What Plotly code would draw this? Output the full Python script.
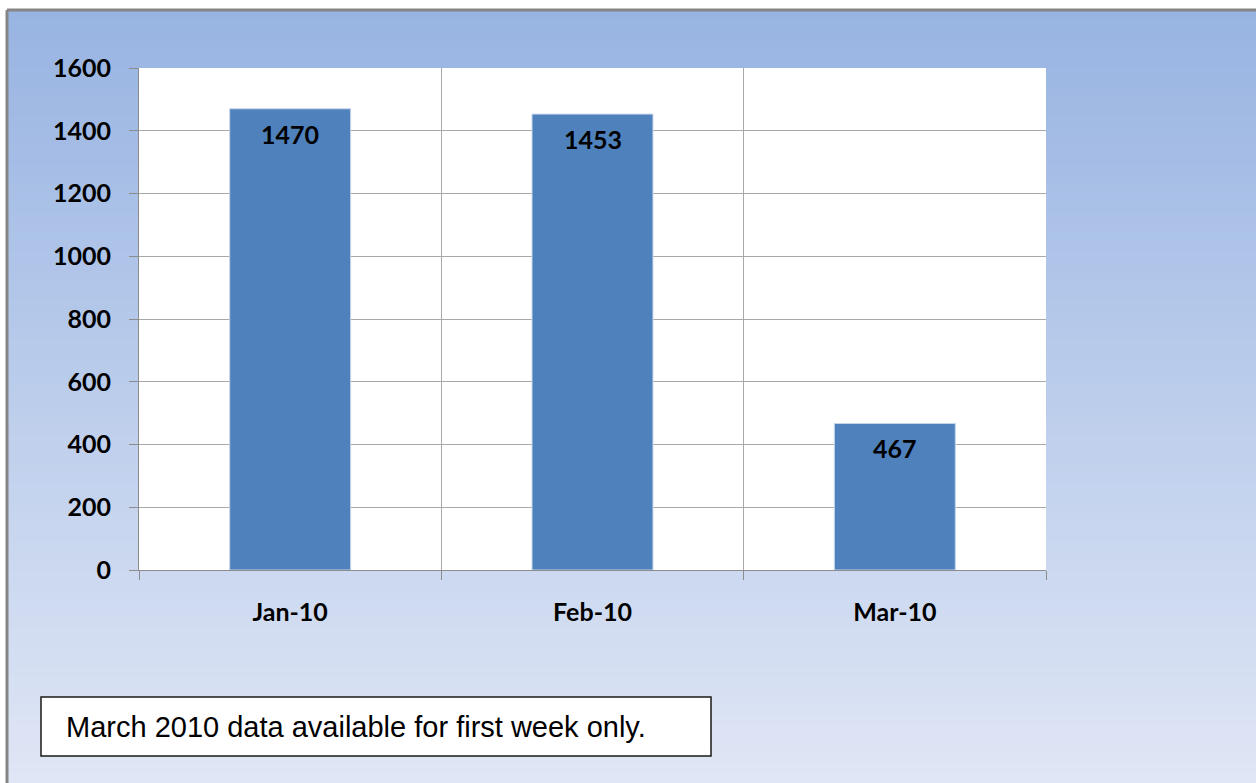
import plotly.graph_objects as go

months = ["Jan-10", "Feb-10", "Mar-10"]
counts = [1470, 1453, 467]
note_text = "March 2010 data available for first week only."

W, H = 1256, 783
L, R, T, B = 139, 1046, 68, 570  # plot area in pixels


def px_x(p):
    return (p - L) / (R - L)


def px_y(p):
    return (B - p) / (B - T)


fig = go.Figure()
fig.add_trace(go.Bar(
    x=months, y=counts,
    marker=dict(color="#4f81bd", line=dict(color="#c5d5ea", width=1)),
    hoverinfo="x+y",
))

shapes = []
# gradient background
n = 80
top_c = (152, 180, 226)
bot_c = (223, 230, 245)
y_top, y_bot = 10, 783
for i in range(n):
    f = i / (n - 1)
    c = tuple(round(top_c[k] + (bot_c[k] - top_c[k]) * f) for k in range(3))
    ya = y_top + (y_bot - y_top) * i / n
    yb = y_top + (y_bot - y_top) * (i + 1) / n + 1
    shapes.append(dict(type="rect", xref="paper", yref="paper", layer="below",
                       x0=px_x(7), x1=px_x(W + 5), y0=px_y(yb), y1=px_y(ya),
                       fillcolor="rgb(%d,%d,%d)" % c, line=dict(width=0)))
# white plot area
shapes.append(dict(type="rect", xref="paper", yref="paper", layer="below",
                   x0=0, x1=1, y0=0, y1=1, fillcolor="white", line=dict(width=0)))
# outer frame lines (top & left)
shapes.append(dict(type="line", xref="paper", yref="paper", layer="above",
                   x0=px_x(7), x1=px_x(W + 5), y0=px_y(10), y1=px_y(10),
                   line=dict(color="#858585", width=3)))
shapes.append(dict(type="line", xref="paper", yref="paper", layer="above",
                   x0=px_x(7), x1=px_x(7), y0=px_y(10), y1=px_y(H + 5),
                   line=dict(color="#858585", width=3)))
# note box
shapes.append(dict(type="rect", xref="paper", yref="paper", layer="above",
                   x0=px_x(41), x1=px_x(711), y0=px_y(756), y1=px_y(697),
                   fillcolor="white", line=dict(color="#1a1a1a", width=1.5)))

annotations = []
for m, v in zip(months, counts):
    annotations.append(dict(x=m, y=v, xref="x", yref="y", text=str(v),
                            showarrow=False, yanchor="top", yshift=-8,
                            font=dict(family="Lato", size=25, color="black", weight="bold")))
annotations.append(dict(x=px_x(64), y=px_y(726.5), xref="paper", yref="paper",
                        text=note_text, showarrow=False, xanchor="left", yanchor="middle",
                        font=dict(family="Liberation Sans, Arial", size=29, color="black")))

fig.update_layout(
    width=W, height=H,
    margin=dict(l=L, r=W - R, t=T, b=H - B, pad=0),
    paper_bgcolor="white",
    plot_bgcolor="white",
    bargap=0.6,
    showlegend=False,
    shapes=shapes,
    annotations=annotations,
)
fig.update_yaxes(
    range=[0, 1600], dtick=200, tick0=0,
    showgrid=True, gridcolor="#a8a8a8", gridwidth=1,
    showline=True, linecolor="#8c8c8c", linewidth=1,
    ticks="outside", ticklen=9, tickcolor="#8c8c8c",
    ticklabelstandoff=13,
    tickfont=dict(family="Lato", size=25, color="black", weight="bold"),
    zeroline=False,
)
fig.update_xaxes(
    type="category", range=[-0.5, 2.5],
    tickson="boundaries", ticks="outside", ticklen=9, tickcolor="#8c8c8c",
    showgrid=True, gridcolor="#a8a8a8", gridwidth=1,
    showline=True, linecolor="#8c8c8c", linewidth=1,
    ticklabelstandoff=20,
    tickfont=dict(family="Lato", size=25, color="black", weight="bold"),
)

fig.write_html("out.html", config={"displayModeBar": False},
               post_script="document.body.style.margin='0';")
